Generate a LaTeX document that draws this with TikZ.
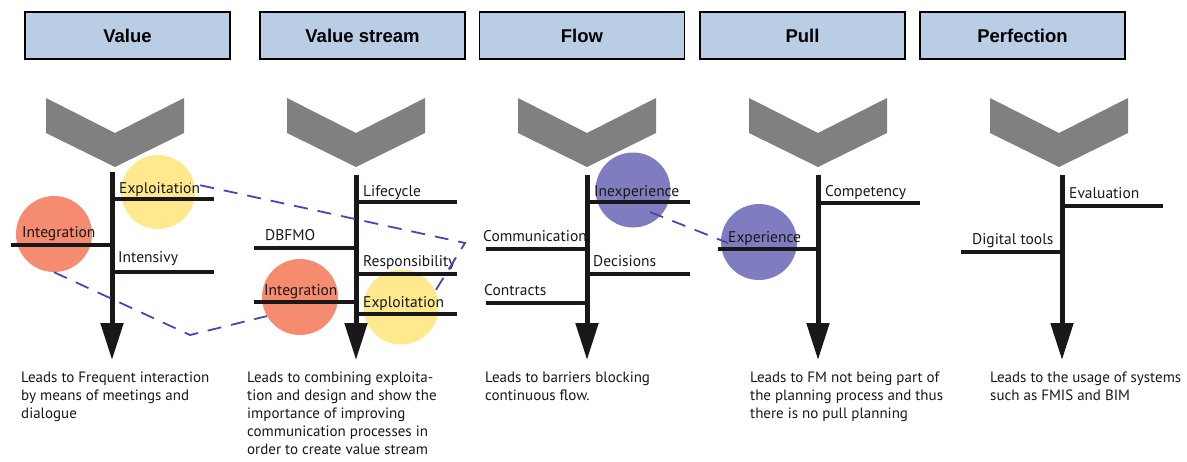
\documentclass[tikz,border=0pt]{standalone}
\usepackage{fontspec}
\setmainfont{PT Sans}
\newfontfamily\headfont{Liberation Sans}
\usetikzlibrary{arrows.meta,calc}

\definecolor{headfill}{HTML}{B9CDE5}
\definecolor{chevgray}{HTML}{808080}
\definecolor{salmon}{HTML}{F58B6F}
\definecolor{sunny}{HTML}{FFE98C}
\definecolor{lavender}{HTML}{7F7CC0}
\definecolor{linkblue}{HTML}{4646B4}
\definecolor{ink}{HTML}{1A1718}

\tikzset{
  header/.style={draw=black, line width=1.8pt, fill=headfill,
    minimum width=205pt, minimum height=47pt, inner sep=0pt,
    font=\headfont\bfseries\fontsize{18.5}{22}\selectfont},
  chev/.pic={\fill[chevgray] (-69,-35) -- (0,0) -- (69,-35) -- (69,0) -- (0,34) -- (-69,0) -- cycle;},
  spine/.style={draw=ink, line width=5pt, -{Triangle[width=22pt,length=37pt]}},
  branch/.style={draw=ink, line width=4.5pt},
  blabel/.style={anchor=base west, inner sep=0pt, font=\fontsize{15.5}{18}\selectfont, text=ink},
  blob/.style={circle, draw=none, inner sep=0pt},
  link/.style={draw=linkblue, line width=1.8pt, dash pattern=on 14pt off 10pt},
  outcome/.style={anchor=north west, inner sep=0pt, align=left,
    font=\fontsize{15}{18}\selectfont, text=ink}
}

\begin{document}
\begin{tikzpicture}[x=1pt, y=-1pt]
\useasboundingbox (0,0) rectangle (1187,461);

% column headers
\node[header] (hvalue)  at (127.5,35.5)  {Value};
\node[header] (hstream) at (362.5,35.5)  {Value stream};
\node[header] (hflow)   at (582,35.5)    {Flow};
\node[header] (hpull)   at (802.5,35.5)  {Pull};
\node[header] (hperf)   at (1022.5,35.5) {Perfection};

% chevrons
\pic at (115,133) {chev};
\pic at (356,133) {chev};
\pic at (587,133) {chev};
\pic at (818,133) {chev};
\pic at (1059,133) {chev};

% highlight circles
\node[blob, fill=sunny,    minimum size=74pt] (vy) at (158,192) {};
\node[blob, fill=salmon,   minimum size=76pt] (vr) at (54,234)  {};
\node[blob, fill=salmon,   minimum size=76pt] (sr) at (300,297) {};
\node[blob, fill=sunny,    minimum size=75pt] (sy) at (401,307) {};
\node[blob, fill=lavender, minimum size=75pt] (fi) at (633,190) {};
\node[blob, fill=lavender, minimum size=76pt] (pe) at (759,242) {};

% spines
\coordinate (v0) at (112,172);  \coordinate (v1) at (112,360);
\coordinate (s0) at (356,175);  \coordinate (s1) at (356,360);
\coordinate (f0) at (587,175);  \coordinate (f1) at (587,360);
\coordinate (p0) at (818,175);  \coordinate (p1) at (818,360);
\coordinate (e0) at (1062,175); \coordinate (e1) at (1062,360);
\draw[spine] (v0) -- (v1);
\draw[spine] (s0) -- (s1);
\draw[spine] (f0) -- (f1);
\draw[spine] (p0) -- (p1);
\draw[spine] (e0) -- (e1);

% Value branches
\draw[branch] (112,199) -- (214,199);
\draw[branch] (11,245)  -- (112,245);
\draw[branch] (112,272) -- (214,272);
\node[blabel] (lv1) at (119,193) {Exploitation};
\node[blabel] (lv2) at (22,237.5) {Integration};
\node[blabel] (lv3) at (118,262) {Intensivy};

% Value stream branches
\draw[branch] (356,202) -- (457,202);
\draw[branch] (254,248) -- (356,248);
\draw[branch] (356,274) -- (457,274);
\draw[branch] (254,302) -- (356,302);
\draw[branch] (356,314) -- (457,314);
\node[blabel] (ls1) at (363,196)   {Lifecycle};
\node[blabel] (ls2) at (265,240.5) {DBFMO};
\node[blabel] (ls3) at (363,266)   {Responsibility};
\node[blabel] (ls4) at (264,295)   {Integration};
\node[blabel] (ls5) at (363,307)   {Exploitation};

% Flow branches
\draw[branch] (587,202) -- (690,202);
\draw[branch] (486,249) -- (587,249);
\draw[branch] (587,274) -- (690,274);
\draw[branch] (486,303) -- (587,303);
\node[blabel] (lf1) at (594,196.5) {Inexperience};
\node[blabel] (lf2) at (483,241)   {Communication};
\node[blabel] (lf3) at (593,266)   {Decisions};
\node[blabel] (lf4) at (484,295)   {Contracts};

% Pull branches
\draw[branch] (818,203) -- (920,203);
\draw[branch] (718,249) -- (818,249);
\node[blabel] (lp1) at (825,196.5) {Competency};
\node[blabel] (lp2) at (728,242.5) {Experience};

% Perfection branches
\draw[branch] (1062,206) -- (1163,206);
\draw[branch] (961,252)  -- (1062,252);
\node[blabel] (le1) at (1069,198) {Evaluation};
\node[blabel] (le2) at (972,244)  {Digital tools};

% dashed links between related factors
\coordinate (k1) at (465,243);
\coordinate (k2) at (190,335);
\draw[link, dash phase=13.5pt] ($(vy.center)+(32,-9)$) -- (k1) -- (sy.25);
\draw[link] (vr.south) -- (k2) -- (sr.210);
\draw[link] ($(fi.center)+(17,22)$) -- ($(pe.center)+(-31,1)$);

% outcomes
\node[outcome] (ov) at (21,372)  {Leads to Frequent interaction\\by means of meetings and\\dialogue};
\node[outcome] (os) at (247,372) {Leads to combining exploita-\\tion and design and show the\\importance of improving\\communication processes in\\order to create value stream};
\node[outcome] (of) at (485,372) {Leads to barriers blocking\\continuous flow.};
\node[outcome] (op) at (750,372) {Leads to FM not being part of\\the planning process and thus\\there is no pull planning};
\node[outcome] (oe) at (990,372) {Leads to the usage of systems\\such as FMIS and BIM};
\end{tikzpicture}
\end{document}
